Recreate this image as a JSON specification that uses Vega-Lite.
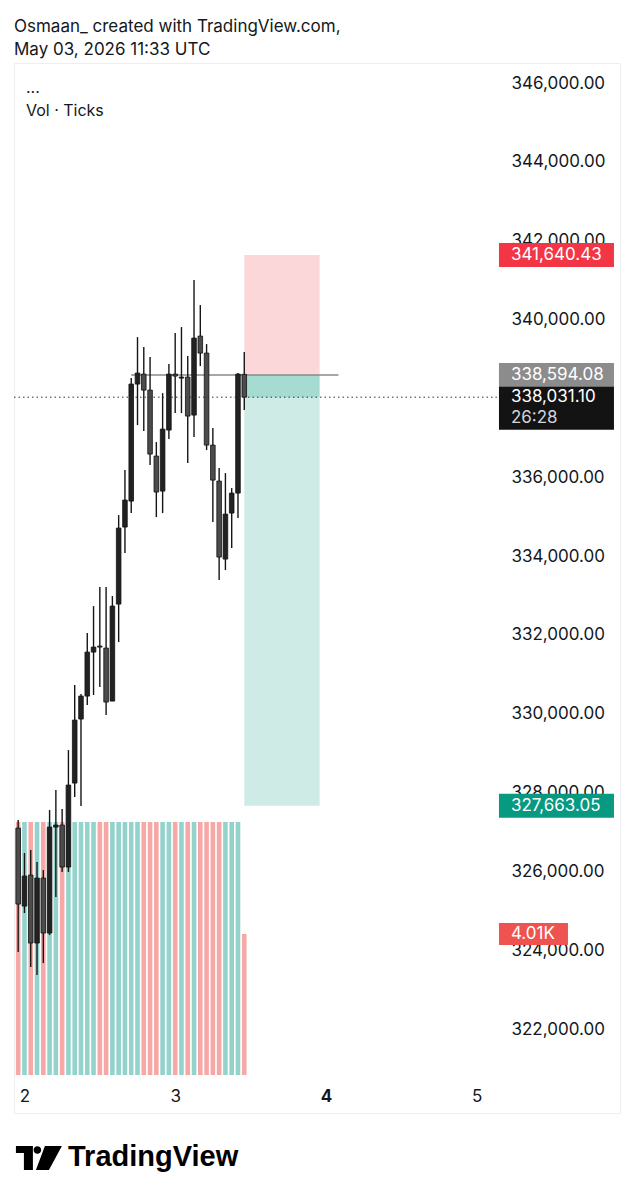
{
  "$schema": "https://vega.github.io/schema/vega-lite/v6.json",
  "width": 606,
  "height": 1050,
  "autosize": {"type": "none"},
  "padding": {"left": 14, "top": 63, "right": 13, "bottom": 86},
  "background": "white",
  "config": {
    "view": {"stroke": "#eceef2", "strokeWidth": 1},
    "font": "Inter",
    "text": {"font": "Inter"}
  },
  "title": {
    "text": ["Osmaan_ created with TradingView.com,", "May 03, 2026 11:33 UTC"],
    "anchor": "start",
    "frame": "group",
    "fontSize": 17,
    "fontWeight": "normal",
    "lineHeight": 23,
    "offset": 4,
    "color": "#131722",
    "font": "Inter"
  },
  "datasets": {
    "candles": [
      {"t": "2026-05-01T23:00:00Z", "o": 327099, "h": 327302, "l": 323954, "c": 325171, "vol": 7200},
      {"t": "2026-05-02T00:00:00Z", "o": 325120, "h": 326465, "l": 324943, "c": 325882, "vol": 7200},
      {"t": "2026-05-02T01:00:00Z", "o": 325907, "h": 326541, "l": 323573, "c": 324182, "vol": 7200},
      {"t": "2026-05-02T02:00:00Z", "o": 324182, "h": 326237, "l": 323370, "c": 325831, "vol": 7200},
      {"t": "2026-05-02T03:00:00Z", "o": 325831, "h": 326034, "l": 323674, "c": 324436, "vol": 7200},
      {"t": "2026-05-02T04:00:00Z", "o": 324436, "h": 327556, "l": 324385, "c": 327125, "vol": 7200},
      {"t": "2026-05-02T05:00:00Z", "o": 327125, "h": 328063, "l": 325349, "c": 327175, "vol": 7200},
      {"t": "2026-05-02T06:00:00Z", "o": 327175, "h": 327581, "l": 325983, "c": 326110, "vol": 7200},
      {"t": "2026-05-02T07:00:00Z", "o": 326110, "h": 329078, "l": 325983, "c": 328190, "vol": 7200},
      {"t": "2026-05-02T08:00:00Z", "o": 328241, "h": 330727, "l": 327886, "c": 329839, "vol": 7200},
      {"t": "2026-05-02T09:00:00Z", "o": 329865, "h": 330499, "l": 327657, "c": 330448, "vol": 7200},
      {"t": "2026-05-02T10:00:00Z", "o": 330448, "h": 332046, "l": 330220, "c": 331564, "vol": 7200},
      {"t": "2026-05-02T11:00:00Z", "o": 331564, "h": 332731, "l": 330474, "c": 331691, "vol": 7200},
      {"t": "2026-05-02T12:00:00Z", "o": 331717, "h": 333213, "l": 330676, "c": 331691, "vol": 7200},
      {"t": "2026-05-02T13:00:00Z", "o": 331666, "h": 333213, "l": 329966, "c": 330296, "vol": 7200},
      {"t": "2026-05-02T14:00:00Z", "o": 330321, "h": 332985, "l": 330321, "c": 332731, "vol": 7200},
      {"t": "2026-05-02T15:00:00Z", "o": 332782, "h": 335040, "l": 331818, "c": 334710, "vol": 7200},
      {"t": "2026-05-02T16:00:00Z", "o": 334736, "h": 336182, "l": 334076, "c": 335421, "vol": 7200},
      {"t": "2026-05-02T17:00:00Z", "o": 335395, "h": 338516, "l": 335091, "c": 338364, "vol": 7200},
      {"t": "2026-05-02T18:00:00Z", "o": 338364, "h": 339556, "l": 337323, "c": 338643, "vol": 7200},
      {"t": "2026-05-02T19:00:00Z", "o": 338617, "h": 339302, "l": 337171, "c": 338211, "vol": 7200},
      {"t": "2026-05-02T20:00:00Z", "o": 338211, "h": 339049, "l": 336309, "c": 336588, "vol": 7200},
      {"t": "2026-05-02T21:00:00Z", "o": 336537, "h": 336892, "l": 334989, "c": 335624, "vol": 7200},
      {"t": "2026-05-02T22:00:00Z", "o": 335649, "h": 338135, "l": 335091, "c": 337222, "vol": 7200},
      {"t": "2026-05-02T23:00:00Z", "o": 337197, "h": 338871, "l": 336968, "c": 338617, "vol": 7200},
      {"t": "2026-05-03T00:00:00Z", "o": 338617, "h": 339658, "l": 337628, "c": 338567, "vol": 7200},
      {"t": "2026-05-03T01:00:00Z", "o": 338516, "h": 339810, "l": 337628, "c": 338541, "vol": 7200},
      {"t": "2026-05-03T02:00:00Z", "o": 338541, "h": 339074, "l": 336359, "c": 337552, "vol": 7200},
      {"t": "2026-05-03T03:00:00Z", "o": 337577, "h": 341002, "l": 337019, "c": 339531, "vol": 7200},
      {"t": "2026-05-03T04:00:00Z", "o": 339581, "h": 340368, "l": 338820, "c": 339150, "vol": 7200},
      {"t": "2026-05-03T05:00:00Z", "o": 339150, "h": 339378, "l": 336689, "c": 336816, "vol": 7200},
      {"t": "2026-05-03T06:00:00Z", "o": 336816, "h": 337247, "l": 334863, "c": 335928, "vol": 7200},
      {"t": "2026-05-03T07:00:00Z", "o": 335903, "h": 336232, "l": 333391, "c": 333975, "vol": 7200},
      {"t": "2026-05-03T08:00:00Z", "o": 333924, "h": 336106, "l": 333645, "c": 335065, "vol": 7200},
      {"t": "2026-05-03T09:00:00Z", "o": 335091, "h": 335725, "l": 334203, "c": 335598, "vol": 7200},
      {"t": "2026-05-03T10:00:00Z", "o": 335598, "h": 338643, "l": 334964, "c": 338617, "vol": 7200},
      {"t": "2026-05-03T11:00:00Z", "o": 338610, "h": 339175, "l": 337704, "c": 338031.10, "vol": 4010}
    ],
    "position": [
      {"t0": "2026-05-03T11:00:00Z", "t1": "2026-05-03T23:00:00Z", "p0": 338594.08, "p1": 341640.43, "zone": "stop"},
      {"t0": "2026-05-03T11:00:00Z", "t1": "2026-05-03T23:00:00Z", "p0": 327663.05, "p1": 338594.08, "zone": "target"},
      {"t0": "2026-05-03T11:00:00Z", "t1": "2026-05-03T23:00:00Z", "p0": 338031.10, "p1": 338594.08, "zone": "profit"}
    ],
    "entry": [
      {"t0": "2026-05-02T17:00:00Z", "t1": "2026-05-04T02:00:00Z", "price": 338594.08}
    ],
    "last": [{"price": 338031.10, "countdown": "26:28"}],
    "pricelabels": [
      {"price": 341640.43, "text": "341,640.43", "kind": "stop"},
      {"price": 338594.08, "text": "338,594.08", "kind": "entry"},
      {"price": 338031.10, "text": "338,031.10", "kind": "last"},
      {"price": 327663.05, "text": "327,663.05", "kind": "target"}
    ],
    "vollabel": [{"vol": 4010, "text": "4.01K"}],
    "legendtext": [{"text": "...\nVol · Ticks"}],
    "brand": [{"text": "TradingView"}]
  },
  "resolve": {"scale": {"y": "independent"}},
  "layer": [
    {
      "layer": [
        {
          "data": {"name": "candles"},
          "mark": {"type": "bar", "size": 4.6},
          "encoding": {
            "x": {
              "field": "t",
              "type": "temporal",
              "scale": {
                "type": "utc",
                "nice": false,
                "padding": 0,
                "domain": [
                  {"year": 2026, "month": 5, "date": 1, "hours": 22, "minutes": 20, "utc": true},
                  {"year": 2026, "month": 5, "date": 5, "hours": 22, "minutes": 50, "utc": true}
                ]
              },
              "axis": {
                "orient": "bottom",
                "offset": -17,
                "title": null,
                "grid": false,
                "ticks": false,
                "domain": false,
                "labelPadding": 0,
                "labelBaseline": "middle",
                "labelFontSize": 17,
                "labelFont": "Inter",
                "labelColor": "#131722",
                "labelFlush": false,
                "labelOverlap": false,
                "values": [
                  {"year": 2026, "month": 5, "date": 2, "utc": true},
                  {"year": 2026, "month": 5, "date": 3, "utc": true},
                  {"year": 2026, "month": 5, "date": 4, "utc": true},
                  {"year": 2026, "month": 5, "date": 5, "utc": true}
                ],
                "labelExpr": "utcFormat(datum.value, '%-d')",
                "labelFontWeight": {"condition": {"test": "utcdate(datum.value) == 4", "value": "bold"}, "value": "normal"}
              }
            },
            "y": {"field": "vol", "type": "quantitative", "scale": {"domain": [-1081, 28800], "zero": false, "nice": false}, "axis": null},
            "y2": {"datum": 0},
            "color": {"condition": {"test": "datum.c >= datum.o", "value": "#93d3cc"}, "value": "#f6a8a6"}
          }
        },
        {
          "data": {"name": "vollabel"},
          "mark": {"type": "point", "filled": true, "opacity": 1, "strokeWidth": 0, "size": 13225, "shape": "M-1,-0.191H0.2V0.191H-1Z", "color": "#ef5350"},
          "encoding": {
            "x": {"datum": {"year": 2026, "month": 5, "date": 5, "hours": 12, "minutes": 43, "utc": true}, "type": "temporal"},
            "y": {"field": "vol", "type": "quantitative"}
          }
        },
        {
          "data": {"name": "vollabel"},
          "mark": {"type": "text", "align": "left", "baseline": "middle", "fontSize": 17, "color": "white", "font": "Inter"},
          "encoding": {
            "x": {"datum": {"year": 2026, "month": 5, "date": 5, "hours": 5, "minutes": 28, "utc": true}, "type": "temporal"},
            "y": {"field": "vol", "type": "quantitative"},
            "text": {"field": "text"}
          }
        }
      ]
    },
    {
      "layer": [
        {
          "data": {"name": "position"},
          "mark": {"type": "rect", "opacity": 0.2},
          "encoding": {
            "x": {"field": "t0", "type": "temporal"},
            "x2": {"field": "t1"},
            "y": {
              "field": "p0",
              "type": "quantitative",
              "scale": {"domain": [319870, 346510], "zero": false, "nice": false},
              "axis": {
                "orient": "right",
                "offset": -111,
                "title": null,
                "grid": false,
                "ticks": false,
                "domain": false,
                "labelAlign": "left",
                "labelBaseline": "middle",
                "labelPadding": 2,
                "labelFontSize": 17,
                "labelFont": "Inter",
                "labelColor": "#131722",
                "labelOverlap": false,
                "format": ",.2f",
                "values": [322000, 324000, 326000, 328000, 330000, 332000, 334000, 336000, 338000, 340000, 342000, 344000, 346000]
              }
            },
            "y2": {"field": "p1"},
            "color": {"field": "zone", "type": "nominal", "scale": {"domain": ["stop", "target", "profit"], "range": ["#f23645", "#089981", "#089981"]}, "legend": null}
          }
        },
        {
          "data": {"name": "entry"},
          "mark": {"type": "rule", "color": "#8a8a8a", "strokeWidth": 1.5},
          "encoding": {
            "x": {"field": "t0", "type": "temporal"},
            "x2": {"field": "t1"},
            "y": {"field": "price", "type": "quantitative"}
          }
        },
        {
          "data": {"name": "candles"},
          "mark": {"type": "rule", "color": "#151515", "strokeWidth": 1.4},
          "encoding": {
            "x": {"field": "t", "type": "temporal"},
            "y": {"field": "l", "type": "quantitative"},
            "y2": {"field": "h"}
          }
        },
        {
          "data": {"name": "candles"},
          "mark": {"type": "bar", "size": 4.6, "stroke": "#111111", "strokeWidth": 0.8},
          "encoding": {
            "x": {"field": "t", "type": "temporal"},
            "y": {"field": "o", "type": "quantitative"},
            "y2": {"field": "c"},
            "color": {"condition": {"test": "datum.c >= datum.o", "value": "#222222"}, "value": "#4c4c4c"}
          }
        },
        {
          "data": {"name": "last"},
          "mark": {"type": "rule", "color": "#333333", "strokeWidth": 1, "strokeDash": [1.5, 3]},
          "encoding": {
            "x": {"datum": {"year": 2026, "month": 5, "date": 1, "hours": 22, "minutes": 20, "utc": true}, "type": "temporal"},
            "x2": {"datum": {"year": 2026, "month": 5, "date": 5, "hours": 3, "minutes": 14, "utc": true}},
            "y": {"field": "price", "type": "quantitative"}
          }
        },
        {
          "data": {"name": "pricelabels"},
          "mark": {"type": "point", "filled": true, "opacity": 1, "strokeWidth": 0, "size": 13225},
          "encoding": {
            "x": {"datum": {"year": 2026, "month": 5, "date": 5, "hours": 12, "minutes": 43, "utc": true}, "type": "temporal"},
            "y": {"field": "price", "type": "quantitative"},
            "shape": {
              "field": "kind",
              "type": "nominal",
              "scale": {
                "domain": ["stop", "entry", "last", "target"],
                "range": ["M-1,-0.2087H1V0.2087H-1Z", "M-1,-0.2087H1V0.2087H-1Z", "M-1,-0.181H1V0.567H-1Z", "M-1,-0.2087H1V0.2087H-1Z"]
              },
              "legend": null
            },
            "fill": {
              "field": "kind",
              "type": "nominal",
              "scale": {"domain": ["stop", "entry", "last", "target"], "range": ["#f23645", "#8c8c8c", "#131313", "#089981"]},
              "legend": null
            }
          }
        },
        {
          "data": {"name": "pricelabels"},
          "mark": {"type": "text", "align": "left", "baseline": "middle", "fontSize": 17, "color": "white", "font": "Inter"},
          "encoding": {
            "x": {"datum": {"year": 2026, "month": 5, "date": 5, "hours": 5, "minutes": 28, "utc": true}, "type": "temporal"},
            "y": {"field": "price", "type": "quantitative"},
            "text": {"field": "text"}
          }
        },
        {
          "data": {"name": "last"},
          "mark": {"type": "text", "align": "left", "baseline": "middle", "fontSize": 17, "color": "#d1d4dc", "font": "Inter", "dy": 21},
          "encoding": {
            "x": {"datum": {"year": 2026, "month": 5, "date": 5, "hours": 5, "minutes": 28, "utc": true}, "type": "temporal"},
            "y": {"field": "price", "type": "quantitative"},
            "text": {"field": "countdown"}
          }
        },
        {
          "data": {"name": "legendtext"},
          "mark": {"type": "text", "align": "left", "baseline": "middle", "fontSize": 16, "color": "#131722", "font": "Inter", "lineBreak": "\n", "lineHeight": 23},
          "encoding": {
            "x": {"datum": {"year": 2026, "month": 5, "date": 2, "hours": 0, "minutes": 14, "utc": true}, "type": "temporal"},
            "y": {"datum": 345876, "type": "quantitative"},
            "text": {"field": "text"}
          }
        },
        {
          "data": {"name": "brand"},
          "mark": {"type": "point", "filled": true, "opacity": 1, "strokeWidth": 0, "size": 2304, "color": "#000000", "shape": "M-0.958,-0.458H-0.25V0.542H-0.625V-0.167H-0.958Z M-0.221,-0.292a0.158,0.158 0 1,0 0.316,0a0.158,0.158 0 1,0 -0.316,0Z M0.25,-0.458L0.958,-0.458L0.417,0.542L-0.125,0.542Z"},
          "encoding": {
            "x": {"datum": {"year": 2026, "month": 5, "date": 2, "hours": 2, "minutes": 18, "utc": true}, "type": "temporal"},
            "y": {"datum": 318755, "type": "quantitative"}
          }
        },
        {
          "data": {"name": "brand"},
          "mark": {"type": "text", "align": "left", "baseline": "middle", "fontSize": 29, "fontWeight": "bold", "color": "#000000", "font": "Liberation Sans"},
          "encoding": {
            "x": {"datum": {"year": 2026, "month": 5, "date": 2, "hours": 6, "minutes": 56, "utc": true}, "type": "temporal"},
            "y": {"datum": 318755, "type": "quantitative"},
            "text": {"field": "text"}
          }
        }
      ]
    }
  ]
}
